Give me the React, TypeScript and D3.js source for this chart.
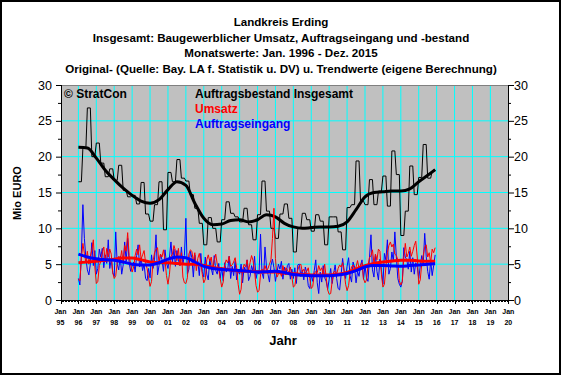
import React from "react";
import * as d3 from "d3";

const titleLines = [
  "Landkreis Erding",
  "Insgesamt: Baugewerblicher Umsatz, Auftragseingang und -bestand",
  "Monatswerte: Jan. 1996 - Dez. 2015",
  "Original- (Quelle: Bay. LA f. Statistik u. DV) u. Trendwerte (eigene Berechnung)",
];
const yearLabels = ["95","96","97","98","99","00","01","02","03","04","05","06","07","08","09","10","11","12","13","14","15","16","17","18","19","20"];
const yTicks = [0, 5, 10, 15, 20, 25, 30];
const legendNames = ["Auftragsbestand Insgesamt", "Umsatz", "Auftragseingang"];

// Auftragsbestand, quarterly values 1996Q1..2015Q4
const bestand = [
  16.5, 21.2, 26.8, 20.0,
  21.9, 19.1, 17.2, 18.3,
  16.7, 18.8, 15.3, 14.4,
  14.6, 13.4, 16.4, 12.0,
  11.0, 13.3, 16.5, 9.8,
  17.8, 16.5, 19.6, 17.0,
  16.6, 14.7, 12.8, 10.7,
  7.7, 11.5, 10.0, 8.1,
  11.2, 13.7, 12.1, 11.6,
  10.9, 12.8, 10.5, 8.4,
  11.9, 16.6, 12.4, 10.0,
  8.6, 12.0, 13.4, 11.4,
  6.7, 10.0, 12.1, 11.2,
  9.6, 11.9, 11.0, 7.7,
  11.6, 11.6, 9.5, 7.0,
  12.9, 13.3, 19.4, 13.8,
  13.3, 16.8, 13.3, 15.2,
  17.3, 13.1, 20.8, 17.5,
  9.0, 12.4, 18.7, 14.7,
  17.1, 21.7, 17.0, 18.0,
];

// Umsatz, monthly Jan 1996..Dec 2015
const umsatz = [
  2.9, 2.7, 5.8, 7.9, 6.5, 5.2, 6.8, 5.0, 6.1, 7.0, 8.4, 4.6,
  2.3, 2.6, 4.8, 5.4, 6.6, 7.4, 5.3, 7.2, 6.0, 7.1, 6.4, 3.8,
  3.0, 3.4, 5.2, 6.1, 5.6, 6.9, 5.1, 7.6, 6.8, 9.4, 6.2, 5.0,
  3.9, 4.6, 6.2, 7.1, 6.3, 7.7, 5.7, 6.3, 6.9, 5.2, 4.4, 3.1,
  1.9, 2.6, 5.4, 6.6, 7.1, 7.3, 5.2, 6.4, 6.0, 7.0, 5.6, 3.4,
  2.2, 3.6, 6.1, 6.4, 7.6, 6.9, 5.5, 7.2, 4.8, 6.6, 3.2, 2.4,
  2.3, 3.1, 6.4, 7.0, 6.8, 5.4, 6.6, 4.1, 5.8, 6.5, 5.2, 3.6,
  2.4, 2.9, 5.6, 6.3, 5.4, 6.0, 4.2, 5.5, 6.4, 5.0, 4.3, 3.0,
  1.8, 2.5, 4.9, 5.6, 5.2, 6.1, 4.7, 4.9, 5.3, 5.9, 4.5, 2.2,
  0.8, 1.5, 4.2, 5.0, 4.6, 5.6, 4.1, 5.2, 6.2, 5.5, 4.0, 2.0,
  1.1, 1.3, 3.5, 4.3, 4.0, 4.8, 4.1, 4.4, 5.0, 5.6, 8.6, 12.8,
  5.8, 3.2, 3.6, 4.0, 3.3, 4.8, 3.6, 4.5, 4.2, 3.8, 4.6, 3.2,
  1.8, 2.0, 3.4, 4.2, 4.8, 5.0, 3.9, 4.3, 3.8, 4.0, 4.5, 3.0,
  1.6, 1.9, 3.6, 4.0, 3.8, 4.8, 4.1, 4.5, 3.6, 5.0, 3.1, 1.4,
  0.8, 0.9, 2.6, 3.9, 4.0, 3.6, 4.4, 4.9, 4.6, 5.2, 4.0, 2.2,
  1.3, 2.0, 3.8, 4.6, 4.9, 4.2, 4.6, 5.5, 4.4, 4.9, 5.2, 3.0,
  2.4, 2.8, 4.8, 5.9, 6.2, 7.0, 5.1, 6.4, 5.6, 7.1, 6.8, 3.6,
  1.8, 2.2, 4.6, 6.6, 7.6, 8.1, 7.4, 7.8, 6.4, 6.2, 5.6, 2.7,
  2.1, 2.6, 5.8, 7.9, 6.0, 6.5, 7.4, 6.1, 6.8, 7.6, 8.2, 6.0,
  2.2, 2.8, 5.0, 6.2, 7.4, 7.7, 6.0, 6.6, 5.2, 7.1, 6.6, 7.3,
];

// Auftragseingang, monthly Jan 1996..Dec 2015
const eingang = [
  3.0, 2.1, 6.5, 13.3, 8.6, 5.8, 4.2, 3.5, 5.0, 8.0, 4.8, 6.9,
  3.6, 4.4, 7.1, 6.0, 7.2, 4.5, 6.3, 5.1, 8.4, 4.4, 5.7, 3.8,
  3.3, 9.5, 5.0, 4.2, 6.1, 3.6, 4.9, 8.1, 5.4, 8.6, 5.2, 4.0,
  4.8, 5.3, 3.9, 6.2, 7.7, 4.6, 5.9, 4.1, 5.0, 3.0, 2.7, 4.4,
  3.1, 6.3, 4.4, 5.7, 9.1, 3.5, 4.8, 6.4, 5.6, 4.0, 7.0, 5.2,
  4.4, 6.0, 8.1, 5.3, 7.1, 4.7, 6.9, 5.6, 4.8, 7.4, 5.0, 6.2,
  11.4, 3.6, 4.3, 6.8, 5.9, 3.2, 6.3, 4.9, 5.4, 3.4, 6.5, 4.0,
  3.2, 6.0, 3.6, 2.8, 5.7, 4.4, 3.5, 6.2, 4.1, 3.6, 5.1, 3.0,
  4.6, 2.7, 5.2, 3.9, 4.2, 6.1, 3.0, 4.7, 3.4, 5.4, 2.8, 4.1,
  3.6, 5.0, 2.4, 4.6, 3.9, 5.6, 2.7, 3.3, 4.8, 4.0, 6.1, 3.0,
  4.0, 3.6, 9.2, 3.8, 3.0, 7.4, 4.6, 3.6, 2.5, 4.8, 5.7, 4.5,
  2.6, 3.8, 5.0, 4.3, 5.4, 2.9, 4.6, 3.5, 4.8, 5.1, 2.9, 4.3,
  3.0, 4.5, 2.3, 4.9, 5.0, 3.3, 4.2, 2.8, 4.6, 3.8, 2.0, 1.6,
  3.6, 2.6, 4.1, 5.6, 2.4, 0.9, 3.9, 2.5, 4.8, 3.1, 2.6, 1.5,
  2.9, 4.4, 2.3, 3.7, 4.9, 3.0, 1.6, 1.4, 3.5, 5.8, 4.1, 3.0,
  4.7, 5.9, 3.4, 2.5, 5.3, 4.6, 2.4, 4.0, 3.3, 4.8, 5.6, 2.9,
  4.8, 3.1, 2.6, 5.9, 9.1, 4.2, 3.2, 6.4, 4.0, 2.8, 5.7, 4.2,
  2.2, 6.5, 5.6, 8.4, 3.6, 4.4, 6.7, 5.4, 9.5, 6.0, 3.0, 2.2,
  1.8, 2.6, 7.3, 6.0, 5.6, 4.3, 6.8, 3.9, 5.9, 3.6, 5.2, 4.6,
  3.0, 4.7, 6.2, 5.0, 9.3, 6.1, 4.0, 2.9, 5.5, 3.4, 4.8, 6.3,
];

// Trend values, half-yearly (Jan 1996, Jul 1996, ... , Dec 2015)
const bestandTrend = [
  21.3, 21.2, 19.8, 18.1, 16.8, 15.6, 14.6, 13.8, 13.5, 14.0,
  15.4, 16.5, 16.0, 13.5, 11.4, 10.5, 10.6, 11.1, 11.2, 10.9,
  11.2, 11.9, 11.6, 10.7, 10.2, 10.0, 10.1, 10.2, 10.2, 10.3,
  10.9, 12.6, 14.4, 15.0, 15.1, 15.2, 15.2, 15.5, 16.5, 17.4, 18.2,
];
const umsatzTrend = [
  5.2, 5.3, 5.4, 5.55, 5.7, 5.85, 5.85, 5.6, 5.3, 5.2,
  5.2, 5.1, 5.0, 5.0, 4.8, 4.55, 4.35, 4.2, 4.05, 4.0,
  3.95, 3.9, 3.9, 3.75, 3.65, 3.55, 3.5, 3.5, 3.5, 3.6,
  3.85, 4.3, 4.8, 5.1, 5.3, 5.45, 5.55, 5.55, 5.45, 5.4, 5.4,
];
const eingangTrend = [
  6.4, 6.0, 5.75, 5.6, 5.55, 5.3, 5.0, 4.9, 4.9, 5.2,
  5.7, 6.0, 5.9, 5.3, 4.7, 4.4, 4.25, 4.2, 4.1, 4.0,
  3.9, 3.95, 4.0, 3.85, 3.55, 3.45, 3.4, 3.4, 3.4, 3.5,
  3.7, 4.1, 4.6, 4.8, 4.8, 4.75, 4.7, 4.8, 4.9, 5.0, 5.05,
];

const FONT = "'Liberation Sans', Arial, sans-serif";

export default function App() {
  const W = 562, H = 376;
  const top = 85, bottom = 300, left = 61, right = 508;
  // months counted from Jan 1995
  const x = d3.scaleLinear().domain([0, 300]).range([60.5, 508.3]);
  const y = d3.scaleLinear().domain([0, 30]).range([bottom, top]);
  const off = 12; // Jan 1996

  const monthly = d3.line<number>().x((_, i) => x(off + i)).y((d) => y(d));
  const trendLine = d3
    .line<number>()
    .x((_, i) => x(off + Math.min(i * 6, 239)))
    .y((d) => y(d))
    .curve(d3.curveMonotoneX);
  const stepPts: [number, number][] = bestand.flatMap((v, q) => [
    [off + q * 3, v],
    [off + q * 3 + 2, v],
  ] as [number, number][]);
  const stepLine = d3.line<[number, number]>().x((d) => x(d[0])).y((d) => y(d[1]));

  const years = d3.range(0, 26);
  const monthsAll = d3.range(0, 301);
  const minorY = d3.range(0, 30.01, 2.5);

  return (
    <svg width={W} height={H} style={{ position: "fixed", left: 0, top: 0, background: "#fff" }} fontFamily={FONT}>
      <rect x={1} y={1} width={559} height={373} fill="#fff" stroke="#000" strokeWidth={2} />
      {titleLines.map((t, i) => (
        <text key={i} x={281} y={26 + i * 15.6} textAnchor="middle" fontSize={11.6} fontWeight="bold" fill="#000">
          {t}
        </text>
      ))}
      <rect x={left} y={top} width={right - left} height={bottom - top} fill="#C0C0C0" />
      {/* grid */}
      {years.slice(1, 25).map((yr) => (
        <line key={"vg" + yr} x1={x(yr * 12)} x2={x(yr * 12)} y1={top} y2={bottom} stroke="#00FFFF" strokeWidth={1} />
      ))}
      {yTicks.slice(1, 6).map((v) => (
        <line key={"hg" + v} x1={left} x2={right} y1={y(v)} y2={y(v)} stroke="#00FFFF" strokeWidth={1} />
      ))}
      <line x1={left} x2={right} y1={top + 0.5} y2={top + 0.5} stroke="#808080" />
      {/* Auftragsbestand */}
      <path d={stepLine(stepPts) || ""} fill="none" stroke="#000" strokeWidth={1} />
      <path d={trendLine(bestandTrend) || ""} fill="none" stroke="#000" strokeWidth={3} />
      {/* monthly */}
      <path d={monthly(eingang) || ""} fill="none" stroke="#0000FF" strokeWidth={1} />
      <path d={monthly(umsatz) || ""} fill="none" stroke="#FF0000" strokeWidth={1} />
      <path d={trendLine(umsatzTrend) || ""} fill="none" stroke="#FF0000" strokeWidth={3} />
      <path d={trendLine(eingangTrend) || ""} fill="none" stroke="#0000FF" strokeWidth={3} />
      {/* axes */}
      <line x1={left + 0.5} x2={left + 0.5} y1={top} y2={bottom} stroke="#000" />
      <line x1={right + 0.5} x2={right + 0.5} y1={top} y2={bottom} stroke="#000" />
      <line x1={left} x2={right} y1={bottom + 0.5} y2={bottom + 0.5} stroke="#000" />
      {minorY.map((v) => {
        const major = v % 5 === 0;
        return (
          <g key={"yt" + v}>
            <line x1={left - (major ? 5 : 3)} x2={left} y1={y(v) + 0.5} y2={y(v) + 0.5} stroke="#000" />
            <line x1={right} x2={right + (major ? 6 : 3)} y1={y(v) + 0.5} y2={y(v) + 0.5} stroke="#000" />
          </g>
        );
      })}
      {monthsAll.map((m) => (
        <line key={"xt" + m} x1={Math.round(x(m)) + 0.5} x2={Math.round(x(m)) + 0.5} y1={bottom} y2={bottom + (m % 12 === 0 ? 4 : 2)} stroke="#000" />
      ))}
      {yTicks.map((v) => (
        <g key={"yl" + v}>
          <text x={52} y={y(v) + 4.5} textAnchor="end" fontSize={12.5} fill="#000">{v}</text>
          <text x={514} y={y(v) + 4.5} textAnchor="start" fontSize={12.5} fill="#000">{v}</text>
        </g>
      ))}
      {years.map((yr) => (
        <g key={"xl" + yr}>
          <text x={x(yr * 12)} y={314} textAnchor="middle" fontSize={7} fontWeight="bold" fill="#000">Jan</text>
          <text x={x(yr * 12)} y={325} textAnchor="middle" fontSize={7} fontWeight="bold" fill="#000">{yearLabels[yr]}</text>
        </g>
      ))}
      <text x={283} y={345} textAnchor="middle" fontSize={13} fontWeight="bold" fill="#000">Jahr</text>
      <text transform="translate(21,193) rotate(-90)" textAnchor="middle" fontSize={11} fontWeight="bold" fill="#000">Mio EURO</text>
      <text x={64} y={98} fontSize={12} fontWeight="bold" fill="#000">© StratCon</text>
      <text x={195} y={98} fontSize={12} fontWeight="bold" fill="#000">{legendNames[0]}</text>
      <text x={195} y={113} fontSize={12} fontWeight="bold" fill="#FF0000">{legendNames[1]}</text>
      <text x={195} y={128} fontSize={12} fontWeight="bold" fill="#0000FF">{legendNames[2]}</text>
    </svg>
  );
}
